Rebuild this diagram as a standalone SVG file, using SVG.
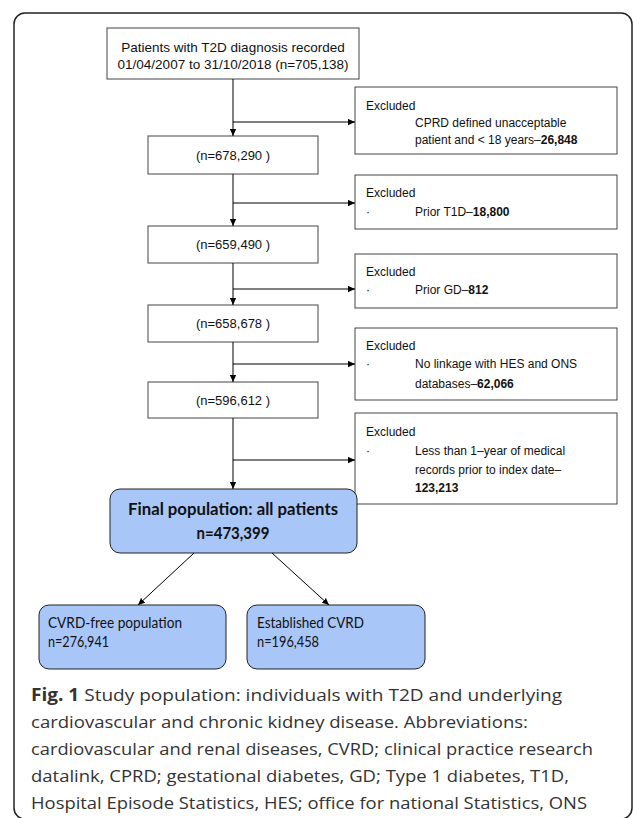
<svg xmlns="http://www.w3.org/2000/svg" width="633" height="818" viewBox="0 0 633 818">
<defs>
<marker id="ah" viewBox="0 0 10 10" refX="10" refY="5" markerWidth="7" markerHeight="7" markerUnits="userSpaceOnUse" orient="auto">
<path d="M0,0.5 L10,5 L0,9.5 Z" fill="#000"/>
</marker>
<style>
.box{fill:#fff;stroke:#444;stroke-width:1}
.blue{fill:#a8c6f7;stroke:#222;stroke-width:1}
.t{font-family:"Liberation Sans",Arial,sans-serif;font-size:13px;fill:#111}
.e{font-family:"Liberation Sans",Arial,sans-serif;font-size:12px;fill:#111}
.b{font-weight:bold}
.c{font-family:Lato,"Open Sans",sans-serif;fill:#111}
.cap{font-family:"Open Sans","Noto Sans",sans-serif;font-size:17px;fill:#333}
.ln{stroke:#000;stroke-width:1;fill:none}
</style>
</defs>
<rect x="14" y="13" width="618" height="806" rx="11" fill="#fff" stroke="#222" stroke-width="1.5"/>
<g id="n_top">
<rect class="box" x="107" y="28" width="252" height="51"/>
<text class="t" x="233" y="52" text-anchor="middle" style="font-size:13.5px">Patients with T2D diagnosis recorded</text>
<text class="t" x="233" y="69" text-anchor="middle" style="font-size:13.5px">01/04/2007 to 31/10/2018 (n=705,138)</text>
</g>
<g id="n_2">
<rect class="box" x="148" y="136" width="170" height="38"/>
<text class="t" x="233" y="160" text-anchor="middle">(n=678,290 )</text>
</g>
<g id="n_3">
<rect class="box" x="148" y="226" width="170" height="37"/>
<text class="t" x="233" y="249" text-anchor="middle">(n=659,490 )</text>
</g>
<g id="n_4">
<rect class="box" x="148" y="305" width="170" height="37"/>
<text class="t" x="233" y="328" text-anchor="middle">(n=658,678 )</text>
</g>
<g id="n_5">
<rect class="box" x="148" y="382" width="170" height="36"/>
<text class="t" x="233" y="405" text-anchor="middle">(n=596,612 )</text>
</g>
<g id="x_1">
<rect class="box" x="355" y="87" width="262" height="67"/>
<text class="e" x="366" y="110">Excluded</text>
<text class="e" x="415" y="127">CPRD defined unacceptable</text>
<text class="e" x="415" y="144">patient and &lt; 18 years–<tspan class="b">26,848</tspan></text>
</g>
<g id="x_2">
<rect class="box" x="355" y="175" width="262" height="54"/>
<text class="e" x="366" y="197">Excluded</text>
<text class="e" x="366" y="216">·</text>
<text class="e" x="415" y="216">Prior T1D–<tspan class="b">18,800</tspan></text>
</g>
<g id="x_3">
<rect class="box" x="355" y="254" width="262" height="54"/>
<text class="e" x="366" y="276">Excluded</text>
<text class="e" x="366" y="294">·</text>
<text class="e" x="415" y="294">Prior GD–<tspan class="b">812</tspan></text>
</g>
<g id="x_4">
<rect class="box" x="355" y="328" width="262" height="72"/>
<text class="e" x="366" y="350">Excluded</text>
<text class="e" x="366" y="368">·</text>
<text class="e" x="415" y="368">No linkage with HES and ONS</text>
<text class="e" x="415" y="388">databases–<tspan class="b">62,066</tspan></text>
</g>
<g id="x_5">
<rect class="box" x="355" y="413" width="262" height="91"/>
<text class="e" x="366" y="436">Excluded</text>
<text class="e" x="366" y="455">·</text>
<text class="e" x="415" y="455">Less than 1–year of medical</text>
<text class="e" x="415" y="474">records prior to index date–</text>
<text class="e b" x="415" y="492">123,213</text>
</g>
<g id="n_final">
<rect class="blue" x="110" y="489" width="247" height="64" rx="10"/>
<text class="c b" x="233" y="515" text-anchor="middle" style="font-size:17px" textLength="210" lengthAdjust="spacingAndGlyphs">Final population: all patients</text>
<text class="c b" x="233" y="539" text-anchor="middle" style="font-size:17px" textLength="73" lengthAdjust="spacingAndGlyphs">n=473,399</text>
</g>
<g id="n_free">
<rect class="blue" x="39" y="605" width="187" height="64" rx="10"/>
<text class="c" x="48" y="628" style="font-size:14.5px" textLength="134" lengthAdjust="spacingAndGlyphs">CVRD-free population</text>
<text class="c" x="48" y="647" style="font-size:14.5px" textLength="61" lengthAdjust="spacingAndGlyphs">n=276,941</text>
</g>
<g id="n_est">
<rect class="blue" x="247" y="605" width="178" height="64" rx="10"/>
<text class="c" x="257" y="628" style="font-size:14.5px" textLength="107" lengthAdjust="spacingAndGlyphs">Established CVRD</text>
<text class="c" x="257" y="647" style="font-size:14.5px" textLength="62" lengthAdjust="spacingAndGlyphs">n=196,458</text>
</g>
<g id="connectors">
<line class="ln" x1="233" y1="79" x2="233" y2="136" marker-end="url(#ah)"/>
<line class="ln" x1="233" y1="122" x2="355" y2="122" marker-end="url(#ah)"/>
<line class="ln" x1="233" y1="174" x2="233" y2="226" marker-end="url(#ah)"/>
<line class="ln" x1="233" y1="203" x2="355" y2="203" marker-end="url(#ah)"/>
<line class="ln" x1="233" y1="263" x2="233" y2="305" marker-end="url(#ah)"/>
<line class="ln" x1="233" y1="289" x2="355" y2="289" marker-end="url(#ah)"/>
<line class="ln" x1="233" y1="342" x2="233" y2="382" marker-end="url(#ah)"/>
<line class="ln" x1="233" y1="364" x2="355" y2="364" marker-end="url(#ah)"/>
<line class="ln" x1="233" y1="418" x2="233" y2="489" marker-end="url(#ah)"/>
<line class="ln" x1="233" y1="460" x2="355" y2="460" marker-end="url(#ah)"/>
<line class="ln" x1="194" y1="553" x2="138" y2="605" marker-end="url(#ah)"/>
<line class="ln" x1="272" y1="553" x2="329" y2="605" marker-end="url(#ah)"/>
</g>
<g id="caption">
<text class="cap" x="31" y="701" textLength="531" lengthAdjust="spacingAndGlyphs"><tspan font-weight="bold">Fig. 1</tspan> Study population: individuals with T2D and underlying</text>
<text class="cap" x="31" y="728" textLength="497" lengthAdjust="spacingAndGlyphs">cardiovascular and chronic kidney disease. Abbreviations:</text>
<text class="cap" x="31" y="755" textLength="562" lengthAdjust="spacingAndGlyphs">cardiovascular and renal diseases, CVRD; clinical practice research</text>
<text class="cap" x="31" y="782" textLength="538" lengthAdjust="spacingAndGlyphs">datalink, CPRD; gestational diabetes, GD; Type 1 diabetes, T1D,</text>
<text class="cap" x="31" y="809" textLength="556" lengthAdjust="spacingAndGlyphs">Hospital Episode Statistics, HES; office for national Statistics, ONS</text>
</g>
</svg>
